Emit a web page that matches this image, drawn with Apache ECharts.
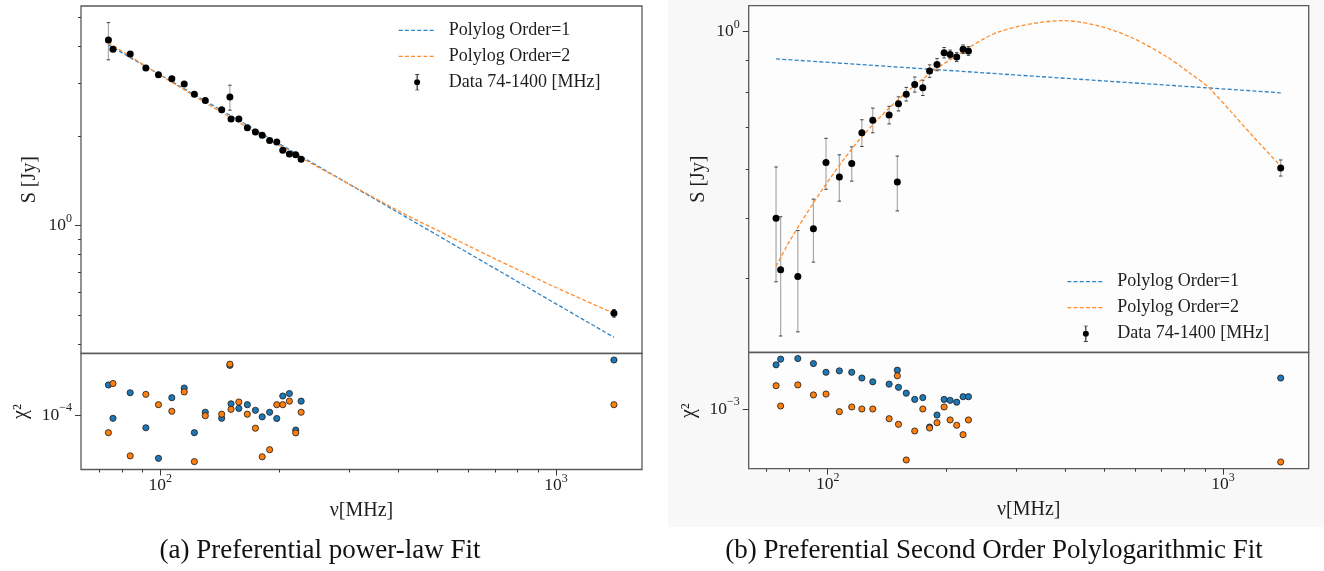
<!DOCTYPE html>
<html><head><meta charset="utf-8">
<script src="https://cdn.jsdelivr.net/npm/echarts@6/dist/echarts.min.js"></script>
<style>html,body{margin:0;padding:0;background:#fff}#c{width:1324px;height:571px}</style>
</head><body><div id="c"></div>
<script>
// ---------- data ----------
const freq = [74, 76, 84, 92, 99, 107, 115, 122, 130, 143, 150, 151, 158, 166, 174, 181, 189, 197, 204, 212, 220, 227, 1400];
// panel (a)
const fluxA = [4.20, 3.91, 3.77, 3.38, 3.21, 3.11, 2.99, 2.76, 2.63, 2.45, 2.70, 2.28, 2.28, 2.13, 2.06, 2.01, 1.93, 1.91, 1.79, 1.74, 1.73, 1.67, 0.508];
const errA  = [0.60, 0.05, 0.04, 0.04, 0.03, 0.03, 0.03, 0.03, 0.03, 0.03, 0.26, 0.02, 0.02, 0.02, 0.02, 0.02, 0.02, 0.02, 0.02, 0.02, 0.02, 0.02, 0.015];
const chiA1 = [1.35e-4, 9.70e-5, 1.25e-4, 8.83e-5, 6.52e-5, 1.19e-4, 1.31e-4, 8.41e-5, 1.03e-4, 9.70e-5, 1.64e-4, 1.12e-4, 1.07e-4, 1.11e-4, 1.05e-4, 9.84e-5, 1.03e-4, 9.68e-5, 1.21e-4, 1.24e-4, 8.63e-5, 1.15e-4, 1.73e-4];
const chiA2 = [8.41e-5, 1.37e-4, 6.68e-5, 1.23e-4, 1.11e-4, 1.04e-4, 1.26e-4, 6.31e-5, 9.95e-5, 1.01e-4, 1.66e-4, 1.06e-4, 1.14e-4, 1.01e-4, 8.79e-5, 6.62e-5, 7.10e-5, 1.11e-4, 1.11e-4, 1.15e-4, 8.39e-5, 1.03e-4, 1.11e-4];
const fitA1Freq = [74, 1400];
const fitA1 = [4.04, 0.422];
const fitA2Freq = [74, 100, 150, 227, 300, 400, 500, 600, 700, 800, 1000, 1200, 1400];
const fitA2 = [4.11, 3.20, 2.31, 1.69, 1.38, 1.12, 0.966, 0.856, 0.775, 0.712, 0.620, 0.556, 0.508];
// panel (b)
const fluxB = [0.500, 0.413, 0.403, 0.481, 0.615, 0.583, 0.613, 0.687, 0.720, 0.734, 0.572, 0.765, 0.793, 0.822, 0.812, 0.864, 0.885, 0.925, 0.919, 0.910, 0.937, 0.931, 0.603];
const errB  = [0.105, 0.090, 0.075, 0.056, 0.058, 0.050, 0.039, 0.034, 0.033, 0.024, 0.058, 0.020, 0.020, 0.023, 0.023, 0.020, 0.020, 0.018, 0.015, 0.015, 0.015, 0.015, 0.018];
const chiB1 = [1.55e-3, 1.64e-3, 1.65e-3, 1.57e-3, 1.44e-3, 1.46e-3, 1.44e-3, 1.36e-3, 1.31e-3, 1.28e-3, 1.47e-3, 1.24e-3, 1.17e-3, 1.10e-3, 1.12e-3, 8.36e-4, 9.42e-4, 1.10e-3, 1.09e-3, 1.07e-3, 1.13e-3, 1.13e-3, 1.36e-3];
const chiB2 = [1.26e-3, 1.03e-3, 1.27e-3, 1.15e-3, 1.16e-3, 9.74e-4, 1.02e-3, 1.00e-3, 1.00e-3, 9.08e-4, 1.39e-3, 8.59e-4, 6.03e-4, 8.04e-4, 1.00e-3, 8.28e-4, 8.73e-4, 1.02e-3, 8.97e-4, 8.51e-4, 7.75e-4, 8.97e-4, 5.91e-4];
const fitB1Freq = [74, 1400];
const fitB1 = [0.904, 0.797];
const fitB2Freq = [74, 80, 97, 118, 143, 174, 211, 272, 394, 487, 592, 719, 824, 916, 1060, 1191, 1400];
const fitB2 = [0.418, 0.459, 0.557, 0.660, 0.753, 0.839, 0.914, 1.000, 1.042, 1.021, 0.976, 0.912, 0.858, 0.815, 0.737, 0.678, 0.607];
// ticks
const xMajorTicks = [100, 1000];
const xMinorTicks = [70, 80, 90, 200, 300, 400, 500, 600, 700, 800, 900];
const yMajorTicks = [1];
const yMinorTicksA = [0.4, 0.5, 0.6, 0.7, 0.8, 0.9, 2, 3, 4, 5];
const yMinorTicksB = [0.4, 0.5, 0.6, 0.7, 0.8, 0.9];
const chiTicksA = [1e-4];
const chiTicksB = [1e-3];
const seriesNames = ['Polylog Order=1', 'Polylog Order=2', 'Data 74-1400 [MHz]'];
const captions = ['(a) Preferential power-law Fit', '(b) Preferential Second Order Polylogarithmic Fit'];

// ---------- build ----------
const L = Math.log10;
const FONT = 'Liberation Serif';
const TXT = '#1e1e1e';
const BLUE_L = '#3184c4', ORANGE_L = '#ff8d2e';
const BLUE = '#1f77b4', ORANGE = '#ff7f0e';
const pts = (xs, ys) => xs.map((x, i) => [L(x), L(ys[i])]);
const errPts = (xs, ys, es) => xs.map((x, i) => [L(x), L(ys[i] - es[i]), L(ys[i] + es[i])]);

const X_RANGE = [1.8, 3.217];
const YA = [-0.429, 0.737], YB = [-0.5174, 0.0419];
const CA = [-4.234, -3.734], CB = [-3.2573, -2.7565];

function expLabel(v) {
  const e = Math.round(v);
  return '{b|10}{s|' + (e < 0 ? '\u2212' + (-e) : e) + '}';
}
const rich = {
  b: {fontFamily: FONT, fontSize: 17.5, color: TXT, lineHeight: 26},
  s: {fontFamily: FONT, fontSize: 12, color: TXT, lineHeight: 13, verticalAlign: 'top'}
};
const nameStyle = {fontFamily: FONT, fontSize: 20, color: TXT};

function majorAxis(o) {
  return Object.assign({
    type: 'value', min: o.range[0], max: o.range[1],
    axisLine: {show: false}, splitLine: {show: false},
    axisTick: {show: true, customValues: o.ticks.map(L), length: 6, lineStyle: {color: '#3a3a3a', width: 1}},
    axisLabel: {show: true, customValues: o.ticks.map(L), formatter: expLabel, rich: rich, margin: o.margin, fontFamily: FONT},
    nameTextStyle: nameStyle, nameMoveOverlap: false
  }, o.extra);
}
function minorAxis(o) {
  return Object.assign({
    type: 'value', min: o.range[0], max: o.range[1],
    axisLine: {show: false}, splitLine: {show: false}, axisLabel: {show: false},
    axisTick: {show: true, customValues: o.ticks.map(L), length: 3, lineStyle: {color: '#3a3a3a', width: 1}}
  }, o.extra);
}

function renderErr(params, api) {
  const x = api.value(0);
  const a = api.coord([x, api.value(1)]);
  const b = api.coord([x, api.value(2)]);
  const w = 1.7;
  return {type: 'group', children: [
    {type: 'line', shape: {x1: a[0], y1: a[1], x2: b[0], y2: b[1]}, style: {stroke: '#a9a9a9', lineWidth: 1.2}},
    {type: 'line', shape: {x1: a[0] - w, y1: a[1], x2: a[0] + w, y2: a[1]}, style: {stroke: '#3c3c3c', lineWidth: 1}},
    {type: 'line', shape: {x1: b[0] - w, y1: b[1], x2: b[0] + w, y2: b[1]}, style: {stroke: '#3c3c3c', lineWidth: 1}}
  ]};
}

function panelSeries(xi, yi, xri, yri, flux, err, f1x, f1, f2x, f2, c1, c2) {
  return [
    {type: 'custom', xAxisIndex: xi, yAxisIndex: yi, renderItem: renderErr, data: errPts(freq, flux, err), encode: {x: 0, y: [1, 2]}, z: 2, silent: true},
    {type: 'line', name: seriesNames[0], xAxisIndex: xi, yAxisIndex: yi, data: pts(f1x, f1), symbol: 'none', lineStyle: {color: BLUE_L, width: 1.3, type: [4, 2.2]}, itemStyle: {color: BLUE_L}, z: 3, silent: true},
    {type: 'line', name: seriesNames[1], xAxisIndex: xi, yAxisIndex: yi, data: pts(f2x, f2), symbol: 'none', smooth: 0.3, lineStyle: {color: ORANGE_L, width: 1.3, type: [4, 2.2]}, itemStyle: {color: ORANGE_L}, z: 3, silent: true},
    {type: 'scatter', name: seriesNames[2], xAxisIndex: xi, yAxisIndex: yi, data: pts(freq, flux), symbolSize: 7, itemStyle: {color: '#000', opacity: 1}, z: 4, silent: true},
    {type: 'scatter', name: 'chi2 order 1', xAxisIndex: xri, yAxisIndex: yri, data: pts(freq, c1), symbolSize: 6.2, itemStyle: {color: BLUE, borderColor: '#1a1a1a', borderWidth: 0.8, opacity: 1}, z: 4, silent: true},
    {type: 'scatter', name: 'chi2 order 2', xAxisIndex: xri, yAxisIndex: yri, data: pts(freq, c2), symbolSize: 6.2, itemStyle: {color: ORANGE, borderColor: '#1a1a1a', borderWidth: 0.8, opacity: 1}, z: 5, silent: true}
  ];
}

const errIcon = 'path://M2.5,0H7.5V0.8H5.6V19.2H7.5V20H2.5V19.2H4.4V0.8H2.5Z M8.75,10A3.75,3.75 0 1 1 1.25,10A3.75,3.75 0 1 1 8.75,10Z';
function legendAt(left, top) {
  return {
    orient: 'vertical', left: left, top: top, padding: 0, itemWidth: 37, itemHeight: 16, itemGap: 8,
    selectedMode: false,
    textStyle: {fontFamily: FONT, fontSize: 18, color: TXT, padding: [0, 0, 0, 8]},
    data: [
      {name: seriesNames[0], itemStyle: {opacity: 0}, lineStyle: {color: BLUE_L, width: 1.3, type: [4, 2.2]}},
      {name: seriesNames[1], itemStyle: {opacity: 0}, lineStyle: {color: ORANGE_L, width: 1.3, type: [4, 2.2]}},
      {name: seriesNames[2], icon: errIcon, itemStyle: {color: '#000', opacity: 1}}
    ]
  };
}

const gridBase = {show: true, borderColor: '#5a5a5a', borderWidth: 1.3, containLabel: false, outerBoundsMode: 'none'};
const option = {
  animation: false,
  backgroundColor: '#ffffff',
  graphic: [{type: 'rect', shape: {x: 668, y: 0, width: 656, height: 527}, style: {fill: '#f8f8f8'}, z: -100, silent: true}],
  title: [
    {text: captions[0], left: 320, top: 537, textAlign: 'center', padding: 0, textStyle: {fontFamily: FONT, fontSize: 27, fontWeight: 'normal', color: '#111'}},
    {text: captions[1], left: 994, top: 537, textAlign: 'center', padding: 0, textStyle: {fontFamily: FONT, fontSize: 27, fontWeight: 'normal', color: '#111'}}
  ],
  legend: [legendAt(398, 21.3), legendAt(1066.7, 272.7)],
  grid: [
    Object.assign({left: 81, top: 6, width: 561, height: 347.5, backgroundColor: '#ffffff'}, gridBase),
    Object.assign({left: 81, top: 353.5, width: 561, height: 116, backgroundColor: '#ffffff'}, gridBase),
    Object.assign({left: 748.7, top: 5.7, width: 560, height: 346.8, backgroundColor: '#fdfdfd'}, gridBase),
    Object.assign({left: 748.7, top: 352.5, width: 560, height: 116.2, backgroundColor: '#fdfdfd'}, gridBase)
  ],
  xAxis: [
    {type: 'value', gridIndex: 0, min: X_RANGE[0], max: X_RANGE[1], show: false},
    majorAxis({range: X_RANGE, ticks: xMajorTicks, margin: 3, extra: {gridIndex: 1, position: 'bottom', name: '\u03bd[MHz]', nameLocation: 'middle', nameGap: 31}}),
    minorAxis({range: X_RANGE, ticks: xMinorTicks, extra: {gridIndex: 1, position: 'bottom'}}),
    {type: 'value', gridIndex: 2, min: X_RANGE[0], max: X_RANGE[1], show: false},
    majorAxis({range: X_RANGE, ticks: xMajorTicks, margin: 3, extra: {gridIndex: 3, position: 'bottom', name: '\u03bd[MHz]', nameLocation: 'middle', nameGap: 31}}),
    minorAxis({range: X_RANGE, ticks: xMinorTicks, extra: {gridIndex: 3, position: 'bottom'}})
  ],
  yAxis: [
    majorAxis({range: YA, ticks: yMajorTicks, margin: 9, extra: {gridIndex: 0, position: 'left', name: 'S [Jy]', nameLocation: 'middle', nameRotate: 90, nameGap: 41}}),
    minorAxis({range: YA, ticks: yMinorTicksA, extra: {gridIndex: 0, position: 'left'}}),
    majorAxis({range: CA, ticks: chiTicksA, margin: 9, extra: {gridIndex: 1, position: 'left', name: '\u03c7\u00b2', nameLocation: 'middle', nameRotate: 90, nameGap: 50}}),
    majorAxis({range: YB, ticks: yMajorTicks, margin: 9, extra: {gridIndex: 2, position: 'left', name: 'S [Jy]', nameLocation: 'middle', nameRotate: 90, nameGap: 40}}),
    minorAxis({range: YB, ticks: yMinorTicksB, extra: {gridIndex: 2, position: 'left'}}),
    majorAxis({range: CB, ticks: chiTicksB, margin: 9, extra: {gridIndex: 3, position: 'left', name: '\u03c7\u00b2', nameLocation: 'middle', nameRotate: 90, nameGap: 50}})
  ],
  series: [].concat(
    panelSeries(0, 0, 1, 2, fluxA, errA, fitA1Freq, fitA1, fitA2Freq, fitA2, chiA1, chiA2),
    panelSeries(3, 3, 4, 5, fluxB, errB, fitB1Freq, fitB1, fitB2Freq, fitB2, chiB1, chiB2)
  )
};
const chart = echarts.init(document.getElementById('c'), null, {renderer: 'canvas'});
chart.setOption(option);
</script>
</body></html>
